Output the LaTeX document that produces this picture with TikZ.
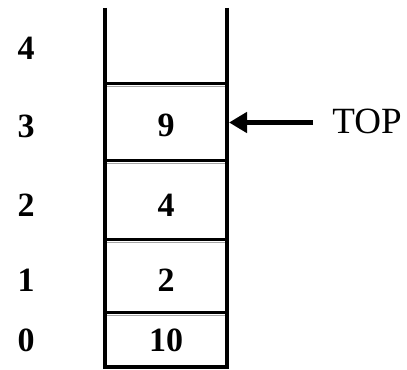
\documentclass[tikz,border=0pt]{standalone}
\usepackage{fontspec}
\setmainfont{Liberation Serif}
\usetikzlibrary{arrows.meta}
\begin{document}
\begin{tikzpicture}[x=1bp,y=1bp,
  wall/.style={line width=4bp},
  sep/.style={line width=3bp},
  sepgray/.style={line width=1.2bp, gray!70},
  idx/.style={inner sep=0pt, font=\fontsize{34bp}{38bp}\selectfont\bfseries},
  val/.style={inner sep=0pt, font=\fontsize{34bp}{38bp}\selectfont\bfseries},
  toplabel/.style={inner sep=0pt, font=\fontsize{37bp}{41bp}\selectfont},
  ptr/.style={line width=5bp, -{Triangle[length=18bp,width=20bp]}}]
\useasboundingbox (0,0) rectangle (407,370);
% walls
\coordinate (lt) at (105,362);
\coordinate (lb) at (105,1);
\coordinate (rt) at (227,362);
\coordinate (rb) at (227,1);
\draw[wall] (lt) -- (lb);
\draw[wall] (rt) -- (rb);
% separators
\foreach \y/\g in {286.5/283.5, 209.5/206.5, 130.5/127.5, 57.5/54.5} {
  \draw[sep] (107,\y) -- (225,\y);
  \draw[sepgray] (107,\g) -- (225,\g);
}
\draw[sep] (103,3) -- (229,3);
% index labels
\node[idx] (i4) at (26,322) {4};
\node[idx] (i3) at (26,244) {3};
\node[idx] (i2) at (26,165) {2};
\node[idx] (i1) at (26,90) {1};
\node[idx] (i0) at (26,30) {0};
% values
\node[val] (v3) at (166,245) {9};
\node[val] (v2) at (166,165) {4};
\node[val] (v1) at (166,90) {2};
\node[val] (v0) at (166,30) {10};
% TOP pointer
\node[toplabel] (top) at (367,248.5) {TOP};
\coordinate (tail) at (313,247.5);
\coordinate (tip) at (229,247.5);
\draw[ptr] (tail) -- (tip);
\end{tikzpicture}
\end{document}
